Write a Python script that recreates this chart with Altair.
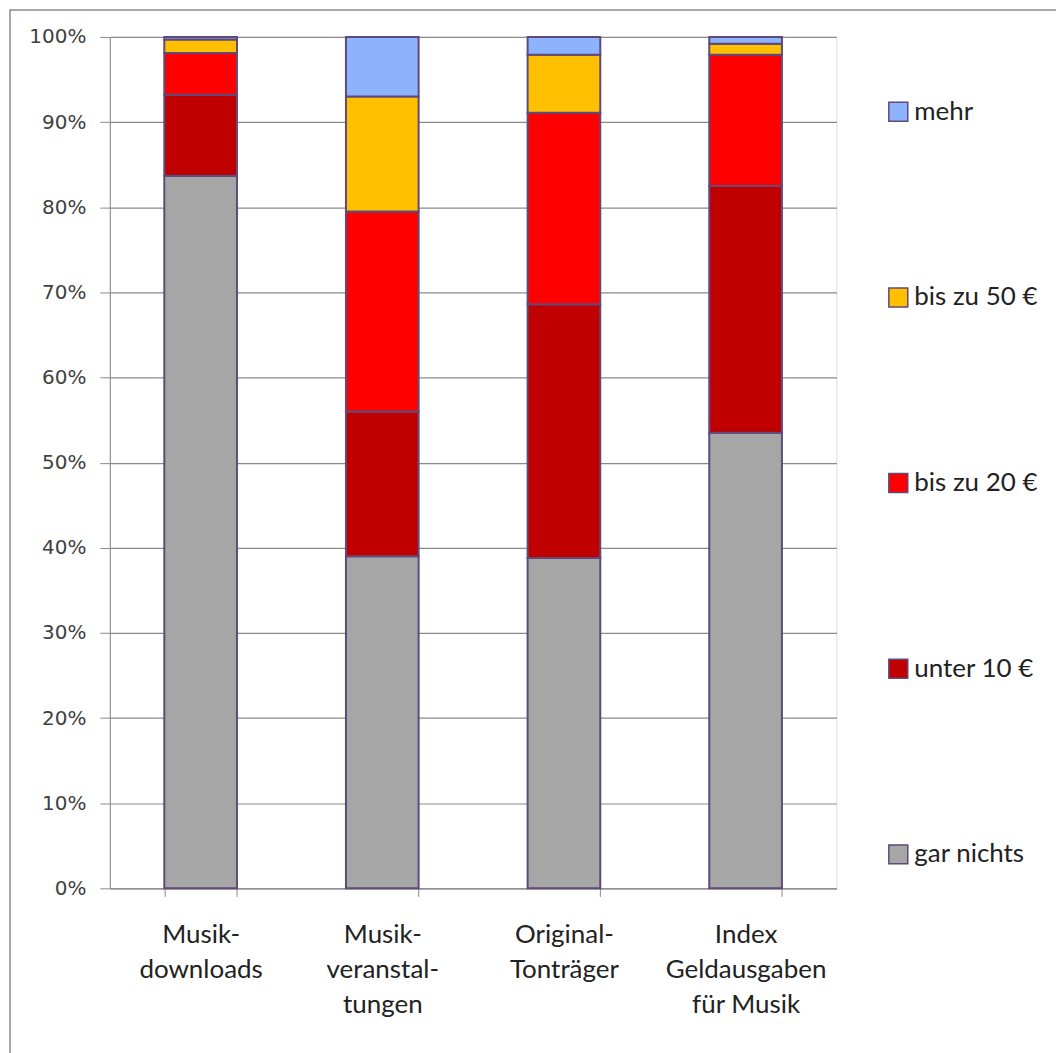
import altair as alt
import pandas as pd

categories = ["Musik-\ndownloads", "Musik-\nveranstal-\ntungen", "Original-\nTonträger", "Index\nGeldausgaben\nfür Musik"]
series = ["gar nichts", "unter 10 €", "bis zu 20 €", "bis zu 50 €", "mehr"]
values = {
    "gar nichts":  [83.7, 39.0, 38.8, 53.5],
    "unter 10 €":  [9.5, 17.0, 29.8, 29.0],
    "bis zu 20 €": [4.9, 23.5, 22.5, 15.4],
    "bis zu 50 €": [1.6, 13.5, 6.8, 1.3],
    "mehr":        [0.3, 7.0, 2.1, 0.8],
}
colors = ["#A6A6A6", "#C00000", "#FF0000", "#FFC000", "#8DB3FF"]

rows = []
for si, s in enumerate(series):
    for ci, c in enumerate(categories):
        rows.append({"cat": c, "series": s, "rank": si, "value": values[s][ci]})
df = pd.DataFrame(rows)

legend_order = list(reversed(series))
legend_colors = list(reversed(colors))

frame = alt.Chart(alt.Data(values=[{}])).mark_rect(
    fill="white", fillOpacity=0, stroke="#8a8a8a", strokeWidth=1.5
).encode(
    x=alt.value(-100), x2=alt.value(1200), y=alt.value(-27), y2=alt.value(1300)
)

bars = alt.Chart(df).mark_bar(stroke="#604A7B", strokeWidth=2).encode(
    x=alt.X("cat:N", sort=categories, title=None,
            scale=alt.Scale(paddingInner=0.6, paddingOuter=0.3),
            axis=alt.Axis(labelAngle=0, labelExpr="split(datum.label, '\\n')",
                          tickBand="extent", ticks=True, tickSize=8,
                          tickColor="#8a8a8a", domainColor="#8a8a8a",
                          labelFont="Lato", labelFontSize=26, labelLineHeight=35,
                          labelColor="#222222", labelPadding=25, labelBaseline="top",
                          grid=False)),
    y=alt.Y("value:Q", stack="normalize", title=None,
            scale=alt.Scale(domain=[0, 1]),
            axis=alt.Axis(format=".0%", values=[i / 10 for i in range(11)],
                          tickSize=10, tickColor="#8a8a8a", domainColor="#8a8a8a",
                          gridColor="#8a8a8a", gridWidth=1.2,
                          labelFont="DejaVu Sans", labelFontSize=20,
                          labelColor="#404040", labelPadding=14)),
    color=alt.Color("series:N", sort=legend_order,
                    scale=alt.Scale(domain=legend_order, range=legend_colors),
                    legend=alt.Legend(title=None, orient="none", legendX=777, legendY=62,
                                      symbolType="square", symbolSize=361,
                                      symbolStrokeColor="#604A7B", symbolStrokeWidth=1.5,
                                      labelFont="Lato", labelFontSize=26,
                                      labelColor="#222222", rowPadding=160,
                                      labelOffset=3, padding=0)),
    order=alt.Order("rank:Q", sort="ascending"),
)

chart = alt.layer(frame, bars).properties(
    width=728, height=853,
    autosize=alt.AutoSizeParams(type="none"),
    padding={"left": 102, "top": 28, "right": 220, "bottom": 164},
).configure_view(
    fill="#ECEAF0", stroke=None
).configure(background="white")

chart.save("out.html", embed_options={"renderer": "svg", "actions": False})
